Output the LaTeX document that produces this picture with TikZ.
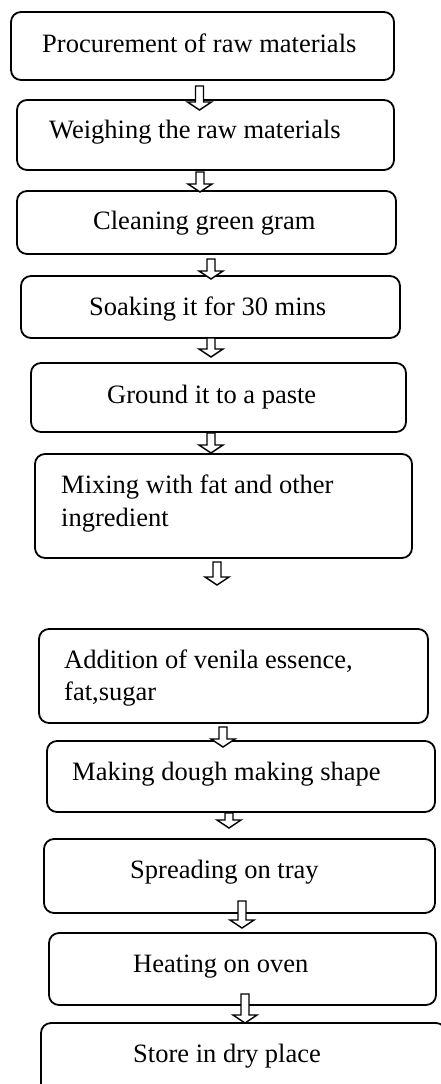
\documentclass[tikz,border=0pt]{standalone}
\usepackage{fontspec}
\setmainfont{Liberation Serif}
\usetikzlibrary{fit,calc}
\tikzset{
  box/.style={draw, line width=1.8pt, rounded corners=10pt, inner sep=0pt},
  lbl/.style={anchor=base west, inner sep=0pt, font=\fontsize{26.5}{33}\selectfont, align=left},
  hollow/.style={draw, fill=white, line width=1.4pt, line join=miter}
}
\newcommand{\stepbox}[5]{\node[box, fit={(#2,#3) (#4,#5)}] (#1) {};}
\newcommand{\blockarrow}[2]{%
  \draw[hollow] ($(#1)+(-4,0)$) -- ($(#2)+(-4,-8)$) -- ($(#2)+(-12,-8)$) -- (#2)
    -- ($(#2)+(12,-8)$) -- ($(#2)+(4,-8)$) -- ($(#1)+(4,0)$) -- cycle;}
\begin{document}
\begin{tikzpicture}[x=1pt,y=-1pt]
\useasboundingbox (0,0) rectangle (441,1084);
\begin{scope}
\clip (0,0) rectangle (441,1084);
\stepbox{b1}{11}{12}{394}{80}
\stepbox{b2}{17}{100}{394}{170}
\stepbox{b3}{17}{191}{396}{254}
\stepbox{b4}{21}{276}{400}{338}
\stepbox{b5}{31}{363}{406}{432}
\stepbox{b6}{35}{454}{412}{558}
\stepbox{b7}{39}{629}{428}{723}
\stepbox{b8}{47}{741}{435}{812}
\stepbox{b9}{44}{839}{435}{913}
\stepbox{b10}{49}{933}{436}{1005}
\stepbox{b11}{41}{1023}{446}{1110}
\end{scope}
\node[lbl] (t1) at (42,52) {Procurement of raw materials};
\node[lbl] (t2) at (49,138) {Weighing the raw materials};
\node[lbl] (t3) at (93,229) {Cleaning green gram};
\node[lbl] (t4) at (89,315) {Soaking it for 30 mins};
\node[lbl] (t5) at (107,403) {Ground it to a paste};
\node[lbl] (t6) at (61,493) {Mixing with fat and other};
\node[lbl] (t6b) at (61,526) {ingredient};
\node[lbl] (t7) at (64,668) {Addition of venila essence,};
\node[lbl] (t7b) at (64,700) {fat,sugar};
\node[lbl] (t8) at (72,780) {Making dough making shape};
\node[lbl] (t9) at (130,878) {Spreading on tray};
\node[lbl] (t10) at (133,972) {Heating on oven};
\node[lbl] (t11) at (133,1062) {Store in dry place};
\coordinate (a1s) at (199.5,86);  \coordinate (a1e) at (199.5,110);
\coordinate (a2s) at (200,172); \coordinate (a2e) at (200,192);
\coordinate (a3s) at (211,259); \coordinate (a3e) at (211,279);
\coordinate (a4s) at (211,338); \coordinate (a4e) at (211,357);
\coordinate (a5s) at (211,433); \coordinate (a5e) at (211,453);
\coordinate (a6s) at (217,562); \coordinate (a6e) at (217,585);
\coordinate (a7s) at (223,727); \coordinate (a7e) at (223,747);
\coordinate (a8s) at (229,813); \coordinate (a8e) at (229,828);
\coordinate (a9s) at (242,901); \coordinate (a9e) at (242,928);
\coordinate (a10s) at (245,994); \coordinate (a10e) at (245,1023);
\blockarrow{a1s}{a1e}
\blockarrow{a2s}{a2e}
\blockarrow{a3s}{a3e}
\blockarrow{a4s}{a4e}
\blockarrow{a5s}{a5e}
\blockarrow{a6s}{a6e}
\blockarrow{a7s}{a7e}
\blockarrow{a8s}{a8e}
\blockarrow{a9s}{a9e}
\blockarrow{a10s}{a10e}
\end{tikzpicture}
\end{document}
